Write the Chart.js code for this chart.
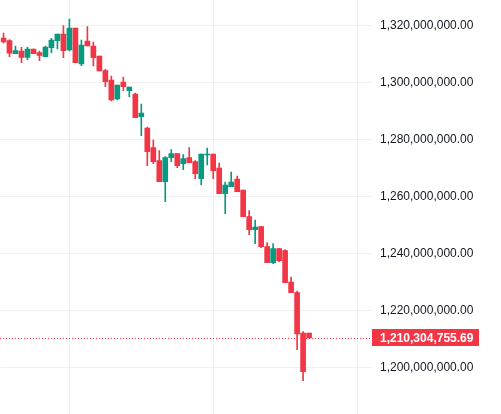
<!DOCTYPE html>
<html>
<head>
<meta charset="utf-8">
<script src="https://cdn.jsdelivr.net/npm/chart.js@4/dist/chart.umd.min.js"></script>
<style>
  html, body { margin: 0; padding: 0; background: #fff; }
  #wrap { width: 501px; height: 414px; }
</style>
</head>
<body>
<div id="wrap"><canvas id="grafico"></canvas></div>
<script>
// valores em milhões
const opens = [
  1315.54, 1314.67, 1310.04, 1310.98, 1308.77, 1311.68, 1310.39, 1308.98, 1312.14, 1314.60,
  1316.95, 1311.33, 1319.05, 1306.42, 1314.49, 1312.74, 1309.23, 1304.07, 1300.81, 1294.14,
  1300.11, 1297.05, 1295.89, 1287.93, 1283.96, 1277.05, 1272.49, 1265.12, 1273.54, 1274.95,
  1271.44, 1273.54, 1272.14, 1266.18, 1274.49, 1274.84, 1269.93, 1260.91, 1263.37, 1266.07,
  1262.21, 1252.84, 1248.28, 1249.33, 1242.32, 1236.70, 1241.61, 1240.91, 1229.93, 1226.18,
  1212.04, 1212.04
];
const highs = [
  1317.30, 1314.95, 1312.74, 1312.28, 1312.28, 1311.68, 1310.98, 1312.74, 1315.44, 1316.95,
  1319.86, 1322.21, 1319.05, 1314.84, 1319.51, 1314.14, 1309.23, 1304.56, 1302.21, 1299.05,
  1301.86, 1298.35, 1296.24, 1292.39, 1284.32, 1279.75, 1276.00, 1273.89, 1276.35, 1274.95,
  1274.60, 1277.05, 1272.49, 1274.84, 1276.95, 1274.84, 1271.68, 1265.02, 1268.53, 1267.12,
  1262.21, 1254.95, 1251.68, 1249.33, 1243.72, 1243.37, 1241.61, 1241.26, 1231.68, 1226.77,
  1212.50, 1212.04
];
const lows = [
  1313.79, 1308.98, 1310.04, 1306.88, 1307.93, 1310.04, 1307.58, 1308.98, 1310.39, 1311.68,
  1308.63, 1310.98, 1306.88, 1305.82, 1312.74, 1305.72, 1303.96, 1298.46, 1293.44, 1293.79,
  1297.05, 1294.95, 1287.58, 1281.26, 1270.74, 1271.44, 1265.12, 1258.11, 1272.14, 1270.04,
  1269.33, 1271.79, 1266.18, 1264.07, 1270.98, 1266.18, 1260.91, 1253.89, 1263.37, 1261.61,
  1252.84, 1246.53, 1243.37, 1241.96, 1236.70, 1236.35, 1237.05, 1229.68, 1226.18, 1206.18,
  1195.30, 1210.30
];
const closes = [
  1314.14, 1310.18, 1311.09, 1308.77, 1311.68, 1310.04, 1309.47, 1312.39, 1314.84, 1316.95,
  1311.09, 1319.05, 1306.88, 1313.09, 1312.74, 1308.63, 1303.96, 1300.21, 1293.79, 1299.05,
  1298.46, 1298.35, 1287.58, 1289.23, 1275.65, 1272.14, 1265.12, 1273.54, 1274.95, 1270.74,
  1273.19, 1271.79, 1267.93, 1274.84, 1274.84, 1268.98, 1260.91, 1263.96, 1265.02, 1261.61,
  1252.84, 1248.28, 1249.23, 1242.32, 1236.70, 1241.61, 1237.40, 1229.68, 1226.18, 1211.68,
  1198.46, 1210.30475569
];
const yTicks = [1200, 1220, 1240, 1260, 1280, 1300, 1320];
const lastPrice = closes[closes.length - 1];

const UP = '#089981';
const DOWN = '#F23645';
const GRID = '#f0f0f3';
const SLOTS = 62; // espaço vazio à direita das velas

const labels = Array.from({ length: SLOTS }, (_, i) => String(i + 1));
const colors = closes.map((c, i) => (c >= opens[i] ? UP : DOWN));

function fmt(v) {
  return (v * 1e6).toLocaleString('en-US', { minimumFractionDigits: 2, maximumFractionDigits: 2 });
}

// linha pontilhada + etiqueta do último preço
const lastPricePlugin = {
  id: 'lastPrice',
  beforeDatasetsDraw(chart) {
    const { ctx, chartArea, scales } = chart;
    const y = Math.round(scales.y.getPixelForValue(lastPrice)) + 0.5;
    ctx.save();
    ctx.strokeStyle = DOWN;
    ctx.lineWidth = 1;
    ctx.setLineDash([1, 2]);
    ctx.beginPath();
    ctx.moveTo(0, y);
    ctx.lineTo(chartArea.right, y);
    ctx.stroke();
    ctx.restore();
  },
  afterDraw(chart) {
    const { ctx, chartArea, scales } = chart;
    const y = scales.y.getPixelForValue(lastPrice);
    ctx.save();
    ctx.fillStyle = DOWN;
    ctx.fillRect(chartArea.right, Math.round(y - 8.5), 107, 17);
    ctx.fillStyle = '#fff';
    ctx.font = 'bold 12px "Liberation Sans", Arial, sans-serif';
    ctx.textBaseline = 'middle';
    ctx.textAlign = 'left';
    ctx.fillText(fmt(lastPrice), chartArea.right + 8, y + 0.5);
    ctx.restore();
  }
};

new Chart(document.getElementById('grafico'), {
  type: 'bar',
  data: {
    labels,
    datasets: [
      {
        label: 'corpo',
        data: opens.map((o, i) => [o, closes[i]]),
        backgroundColor: colors,
        barThickness: 5,
        grouped: false
      },
      {
        label: 'pavio',
        data: lows.map((l, i) => [l, highs[i]]),
        backgroundColor: colors,
        barThickness: 1,
        grouped: false
      }
    ]
  },
  options: {
    responsive: true,
    maintainAspectRatio: false,
    animation: false,
    devicePixelRatio: 1,
    layout: { padding: { left: 0.5, top: 0, right: 0, bottom: 0 } },
    plugins: { legend: { display: false }, tooltip: { enabled: false } },
    scales: {
      x: {
        offset: true,
        border: { display: false },
        ticks: { display: false },
        grid: {
          offset: false,
          drawTicks: false,
          color: c => (c.index % 24 === 11 ? GRID : 'rgba(0,0,0,0)')
        }
      },
      y: {
        position: 'right',
        min: 1183.6,
        max: 1328.88,
        border: { display: false },
        grid: { drawTicks: false, color: GRID },
        afterBuildTicks: s => { s.ticks = yTicks.map(v => ({ value: v })); },
        afterFit: s => { s.width = 129; s.paddingTop = 0; s.paddingBottom = 0; },
        ticks: {
          padding: 8,
          crossAlign: 'near',
          color: '#131722',
          font: { family: '"Liberation Sans", Arial, sans-serif', size: 12 },
          callback: v => fmt(v)
        }
      }
    }
  },
  plugins: [lastPricePlugin]
});
</script>
</body>
</html>
